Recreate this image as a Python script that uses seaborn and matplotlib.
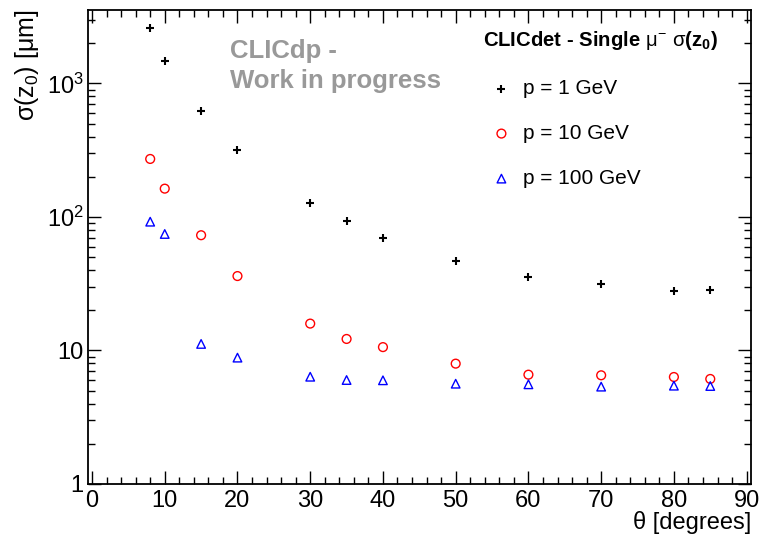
import numpy as np
import pandas as pd
import matplotlib
matplotlib.use("Agg")
import matplotlib.pyplot as plt
import seaborn as sns
from matplotlib.ticker import FixedLocator, MultipleLocator, NullFormatter

# ---- data ----
theta_1 = [8, 10, 15, 20, 30, 35, 40, 50, 60, 70, 80, 85]
sigma_1 = [2590, 1480, 626, 318, 127, 94, 69.6, 46.8, 35.7, 31.5, 27.8, 28.4]

theta_10 = [8, 10, 15, 20, 30, 35, 40, 50, 60, 70, 80, 85]
sigma_10 = [272, 163, 73, 36.1, 15.9, 12.2, 10.6, 7.97, 6.59, 6.52, 6.33, 6.12]

theta_100 = [8, 10, 15, 20, 30, 35, 40, 50, 60, 70, 80, 85]
sigma_100 = [92.2, 74.6, 11.2, 8.84, 6.36, 6.01, 5.98, 5.64, 5.58, 5.36, 5.45, 5.42]

series_labels = ["p = 1 GeV", "p = 10 GeV", "p = 100 GeV"]
ytick_vals = [1, 10, 100, 1000]
ytick_labels = ["1", "10", "$10^{2}$", "$10^{3}$"]
xtick_vals = [0, 10, 20, 30, 40, 50, 60, 70, 80, 90]

sns.set_theme(style="ticks")
plt.rcParams["font.family"] = ["Liberation Sans", "DejaVu Sans"]
plt.rcParams["mathtext.fontset"] = "custom"
plt.rcParams["mathtext.rm"] = "Liberation Sans"
plt.rcParams["mathtext.it"] = "Liberation Sans"
plt.rcParams["mathtext.bf"] = "Liberation Sans:bold"
plt.rcParams["text.color"] = "black"

W, H = 761, 536
fig = plt.figure(figsize=(W / 100, H / 100), dpi=100)
ax = fig.add_axes([88 / W, 1 - 484 / H, (751 - 88) / W, (484 - 10) / H])

sns.scatterplot(x=theta_1, y=sigma_1, marker="+", s=32, color="black",
                linewidth=1.5, ax=ax, label=series_labels[0])
sns.scatterplot(x=theta_10, y=sigma_10, marker="o", s=40, color="red",
                facecolor="none", edgecolor="red", linewidth=1.0, ax=ax,
                label=series_labels[1])
sns.scatterplot(x=theta_100, y=sigma_100, marker="^", s=38, color="blue",
                facecolor="none", edgecolor="blue", linewidth=1.0, ax=ax,
                label=series_labels[2])

ax.set_yscale("log")
ax.set_xlim(-0.55, 90.6)
ax.set_ylim(1, 3550)

ax.xaxis.set_major_locator(FixedLocator(xtick_vals))
ax.xaxis.set_minor_locator(MultipleLocator(2))
ax.yaxis.set_major_locator(FixedLocator(ytick_vals))
ax.set_yticklabels(ytick_labels)
ax.yaxis.set_minor_locator(FixedLocator([m * 10 ** e for e in range(0, 4) for m in range(2, 10)]))
ax.yaxis.set_minor_formatter(NullFormatter())

ax.tick_params(which="both", direction="in", top=True, right=True, colors="black",
               labelsize=17)
ax.tick_params(which="major", length=9.5, width=1.0)
ax.tick_params(which="minor", length=5, width=1.0)
ax.tick_params(axis="x", pad=4)
ax.tick_params(axis="y", pad=3)
for sp in ax.spines.values():
    sp.set_linewidth(1.3)
    sp.set_color("black")

ax.set_xlabel("")
ax.set_ylabel("")
fig.text(751 / W, 1 - 534 / H, "θ [degrees]", ha="right", va="bottom", fontsize=17)
fig.text(27 / W, 1 - 9 / H, r"σ(z$_{0}$) [μm]", ha="center", va="top",
         rotation=90, fontsize=18)

fig.text(230 / W, 1 - 51 / H, "CLICdp -", color="#999999", fontsize=18.5,
         fontweight="bold", ha="left", va="center")
fig.text(230 / W, 1 - 81 / H, "Work in progress", color="#999999", fontsize=18.5,
         fontweight="bold", ha="left", va="center")
fig.text(483 / W, 1 - 41 / H, r"CLICdet - Single $\mu^{-}$ $\sigma$($\mathbf{z_{0}}$)",
         color="black", fontsize=14.6, fontweight="bold", ha="left", va="center")

leg = ax.legend(loc="upper left", bbox_to_anchor=(491 / W, 1 - 79 / H),
                bbox_transform=fig.transFigure, frameon=False, fontsize=15,
                handletextpad=0.55, labelspacing=1.25, handlelength=1.0,
                borderaxespad=0, borderpad=0)
for t in leg.get_texts():
    t.set_color("black")

fig.savefig("out.png", dpi=100)
